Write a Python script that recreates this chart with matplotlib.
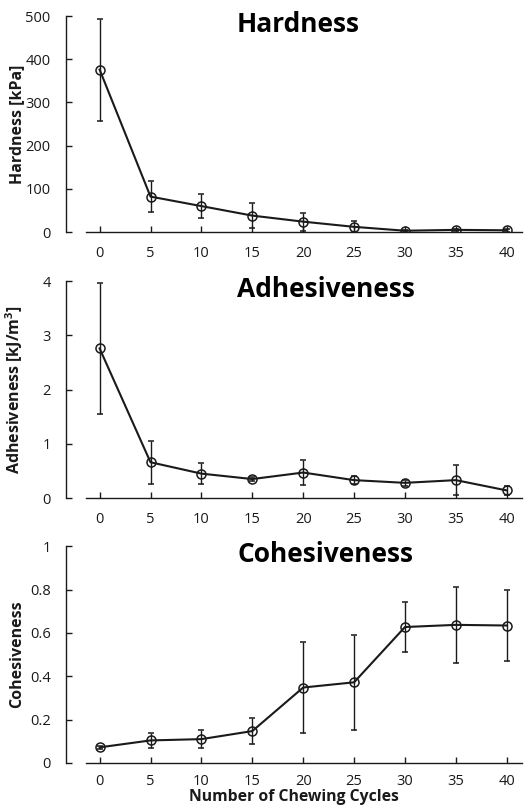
import matplotlib
matplotlib.use("Agg")
import matplotlib.pyplot as plt

plt.rcParams['font.family'] = ['Open Sans', 'DejaVu Sans']

# ----------- DATA -------------
cycles = [0, 5, 10, 15, 20, 25, 30, 35, 40]

hardness = [376, 82, 60, 38, 24, 12, 3, 5, 4]
hardness_err = [118, 35, 28, 29, 21, 13, 2, 3, 3]

adhesiveness = [2.76, 0.66, 0.45, 0.35, 0.47, 0.33, 0.28, 0.33, 0.14]
adhesiveness_err = [1.21, 0.40, 0.20, 0.03, 0.23, 0.07, 0.06, 0.28, 0.09]

cohesiveness = [0.072, 0.104, 0.110, 0.147, 0.348, 0.372, 0.627, 0.637, 0.634]
cohesiveness_err = [0.008, 0.034, 0.040, 0.060, 0.210, 0.220, 0.114, 0.175, 0.163]

titles = ["Hardness", "Adhesiveness", "Cohesiveness"]
ylabels = ["Hardness [kPa]", "Adhesiveness [kJ/m$^\\mathregular{3}$]", "Cohesiveness"]
yticks = [[0, 100, 200, 300, 400, 500],
          [0, 1, 2, 3, 4],
          [0, 0.2, 0.4, 0.6, 0.8, 1]]
ytick_labels = [["0", "100", "200", "300", "400", "500"],
                ["0", "1", "2", "3", "4"],
                ["0", "0.2", "0.4", "0.6", "0.8", "1"]]
# ------------------------------

ink = "#1a1a1a"
fig = plt.figure(figsize=(5.29, 8.09), dpi=100)

# axes boxes in figure fractions (left, bottom, width, height)
boxes = [(0.1248, 0.7132, 0.862, 0.267),
         (0.1248, 0.3844, 0.862, 0.268),
         (0.1248, 0.0569, 0.862, 0.268)]

series = [(hardness, hardness_err), (adhesiveness, adhesiveness_err),
          (cohesiveness, cohesiveness_err)]

for i, box in enumerate(boxes):
    ax = fig.add_axes(box)
    vals, errs = series[i]
    ax.errorbar(cycles, vals, yerr=errs, color=ink, lw=1.5, marker='o',
                markersize=6.5, markerfacecolor='none', markeredgecolor=ink,
                markeredgewidth=1.1, ecolor=ink, elinewidth=1.0,
                capsize=2.5, capthick=1.0, zorder=3)

    ax.set_xlim(-3.3, 41.5)
    ax.set_ylim(yticks[i][0], yticks[i][-1])
    ax.set_xticks(cycles)
    ax.set_yticks(yticks[i])
    ax.set_yticklabels(ytick_labels[i])

    for s in ['top', 'right']:
        ax.spines[s].set_visible(False)
    ax.spines['bottom'].set_bounds(-1.3, 41.5)
    for s in ['left', 'bottom']:
        ax.spines[s].set_color(ink)
        ax.spines[s].set_linewidth(1.0)

    ax.tick_params(axis='y', direction='in', length=4, width=1.0,
                   color=ink, pad=11, labelsize=10.5, labelcolor=ink)
    ax.tick_params(axis='x', direction='in', length=4, width=1.0,
                   color=ink, pad=8 if i == 2 else 10, labelsize=10.5,
                   labelcolor=ink)

    ax.set_ylabel(ylabels[i], fontsize=11.5, fontweight='bold', color=ink)
    ax.yaxis.set_label_coords(-0.09, 0.5)

    ax.text(0.375, 0.925, titles[i], transform=ax.transAxes, ha='left',
            va='baseline', fontsize=19, fontweight='bold', color='black')

    if i == 2:
        ax.set_xlabel("Number of Chewing Cycles", fontsize=11.3,
                      fontweight='bold', color=ink, labelpad=0)

fig.savefig("out.png", dpi=100)
